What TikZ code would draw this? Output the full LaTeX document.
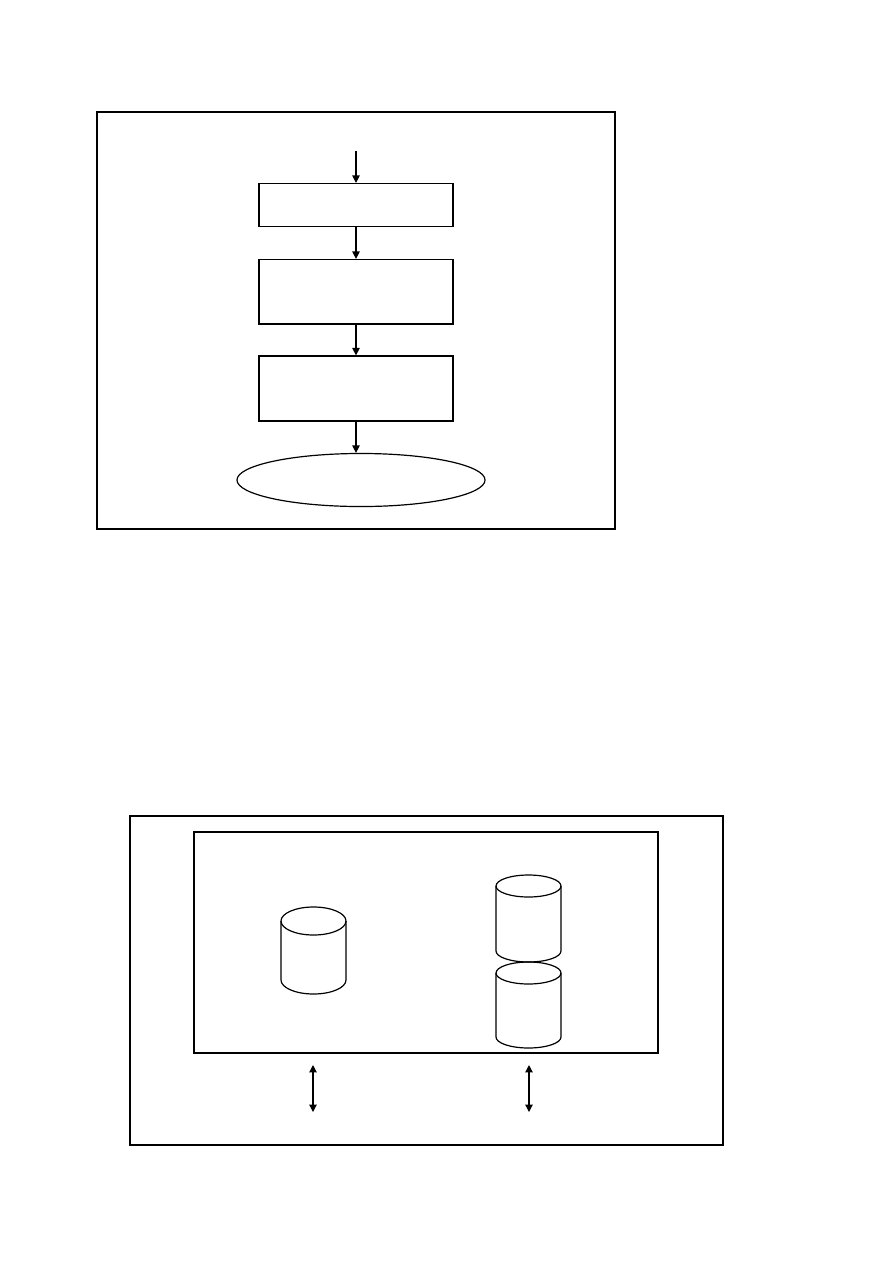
\documentclass[tikz,border=0pt]{standalone}
\usetikzlibrary{arrows.meta,shapes.geometric}

\begin{document}
\begin{tikzpicture}[x=0.02352cm, y=-0.02352cm, line width=0.8pt,
    box/.style={draw, rectangle, minimum width=4.563cm, inner sep=0pt},
    oval/.style={draw, ellipse, minimum width=5.833cm, minimum height=1.247cm, inner sep=0pt},
    flow/.style={-{Triangle[length=5pt,width=5pt]}},
    twoway/.style={{Triangle[length=5pt,width=5pt]}-{Triangle[length=5pt,width=5pt]}}]
\useasboundingbox (0,0) rectangle (893,1263);
% upper picture: flow of steps
\draw (97,112) rectangle (615,529);
\coordinate (in) at (356,151);
\node[box, minimum height=1.011cm] (step1) at (356,205) {};
\node[box, minimum height=1.505cm] (step2) at (356,291.5) {};
\node[box, minimum height=1.529cm] (step3) at (356,388.5) {};
\node[oval] (result) at (361,480) {};
\draw[line width=1.6pt] (step2.south west) -- (step2.south east);
\draw[flow] (in) -- (step1);
\draw[flow] (step1) -- (step2);
\draw[flow] (step2) -- (step3);
\draw[flow] (step3.south) -- (step3.south |- result.north);
% lower picture: stores
\draw (130,816) rectangle (723,1145);
\draw[line width=1.2pt] (130,816) -- (723,816);
\draw (194,832) rectangle (658,1053);
\draw[line width=1.4pt] (194,832) -- (658,832);
\foreach \cx/\ytop/\ybot/\ry in {313.5/921/980/14, 528.5/886/951/11, 528.5/973/1037/11} {
  \draw (\cx-32.5,\ytop) -- (\cx-32.5,\ybot) arc[start angle=180, end angle=0, x radius=32.5, y radius=\ry] -- (\cx+32.5,\ytop);
  \draw (\cx,\ytop) ellipse [x radius=32.5, y radius=\ry];
}
\coordinate (a1) at (313,1065);
\coordinate (b1) at (313,1112);
\coordinate (a2) at (529,1065);
\coordinate (b2) at (529,1112);
\draw[twoway] (a1) -- (b1);
\draw[twoway] (a2) -- (b2);
\end{tikzpicture}
\end{document}
